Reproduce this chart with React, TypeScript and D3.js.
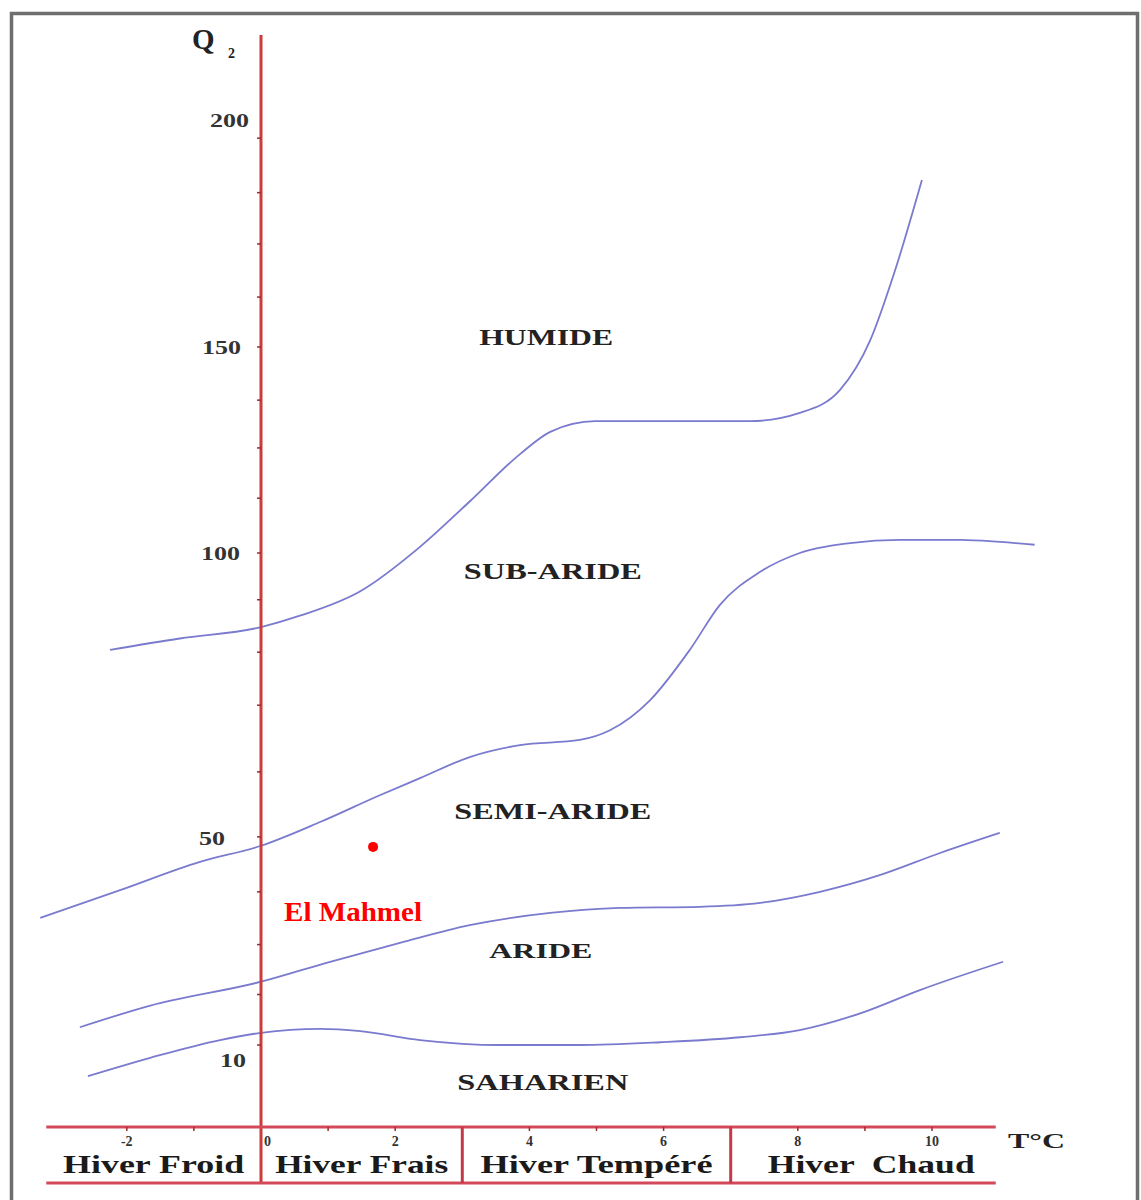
import React from "react";
import * as d3 from "d3";

// ---- Data (T in °C, Q2 Emberger quotient) ----
const curveHumide: [number, number][] = [
  [-2.25, 83], [-1.21, 85], [0, 87], [0.58, 89], [1.48, 93.3], [2.37, 101.5], [3.11, 112.5],
  [3.86, 124], [4.31, 129.4], [4.98, 132], [5.8, 132], [7.29, 132], [8.03, 134],
  [8.63, 139.6], [9.08, 151.5], [9.45, 166.9], [9.85, 186.8],
];
const curveSubAride: [number, number][] = [
  [-3.29, 35.6], [-2.1, 40.6], [-0.91, 45.7], [0, 48.6], [0.88, 52.8], [1.77, 57.5],
  [2.37, 60.5], [3.11, 64.2], [3.86, 66.3], [4.75, 67.2], [5.2, 68.9], [5.8, 74.2],
  [6.39, 83], [6.84, 90.9], [7.44, 96.7], [8.03, 100], [8.78, 102.4], [9.52, 103.2],
  [10.42, 103.2], [11.01, 102.7], [11.53, 102],
];
const curveSemiAride: [number, number][] = [
  [-2.7, 15.9], [-1.65, 19.8], [0, 24.1], [1.03, 27.7], [2.07, 31.1], [3.11, 34.3],
  [4.31, 36.5], [5.35, 37.4], [6.54, 37.6], [7.44, 38.3], [8.33, 40.3], [9.22, 43.3],
  [10.12, 47.3], [11.01, 50.9],
];
const curveAride: [number, number][] = [
  [-2.58, 7.1], [-1.65, 10.4], [-0.61, 13.6], [0, 14.9], [0.88, 15.6], [1.48, 15.2],
  [2.37, 13.6], [3.56, 12.7], [4.75, 12.7], [5.95, 13.2], [7.14, 14.1], [8.03, 15.4],
  [8.93, 18.4], [9.82, 22.6], [11.06, 27.7],
];
const boundaryCurves = [curveHumide, curveSubAride, curveSemiAride, curveAride];

const zoneNames = ["HUMIDE", "SUB-ARIDE", "SEMI-ARIDE", "ARIDE", "SAHARIEN"];
const zoneLabelT = [4.25, 4.35, 4.35, 4.17, 4.2];
const zoneLabelQ2 = [152, 96.7, 54.7, 29.6, 6];
const zoneLabelWidths = [134, 178, 197, 103, 171];

const q2TickLabels = [10, 50, 100, 150, 200];
const q2LabelRight = [246, 225, 240, 241, 249];
const q2MinorTicks = [196, 184, 172.7, 161, 150, 137.1, 125.5, 113.3, 100, 91.8, 82.6, 73.3, 61.6, 50.2, 40.3, 30.8, 21.8, 12.7];
const tTickLabels = [-2, 0, 2, 4, 6, 8, 10];
const tMinorTicks = [-2, -1, 1, 2, 4, 5, 6, 8, 9, 10];

const winterNames = ["Hiver Froid", "Hiver Frais", "Hiver Tempéré", "Hiver  Chaud"];
const winterBounds = [-3.2, 0, 3, 7, 10.95];
const winterLabelWidths = [181, 173, 232, 207];

const stationName = "El Mahmel";
const stationT = 1.67;
const stationQ2 = 48.4;

export default function App() {
  const W = 1141;
  const H = 1200;
  const x = d3.scaleLinear().domain([0, 10]).range([261, 932]);
  const y = d3.scaleLinear().domain(q2TickLabels).range([1060, 838, 553, 347, 120]);
  const line = d3
    .line<[number, number]>()
    .x((d) => x(d[0]))
    .y((d) => y(d[1]))
    .curve(d3.curveMonotoneX);

  const axisTop = 1127;
  const axisBottom = 1183;
  const serif = "'Liberation Serif', 'Times New Roman', serif";
  const labelCenters = winterNames.map((_, i) => (winterBounds[i] + winterBounds[i + 1]) / 2);

  return (
    <svg
      width={W}
      height={H}
      style={{ position: "absolute", left: 0, top: 0, background: "#fff" }}
      fontFamily={serif}
    >
      <rect x={0} y={0} width={W} height={H} fill="#fff" />
      {/* frame */}
      <rect x={11.5} y={13.5} width={1126} height={1200} fill="none" stroke="#6e6e6e" strokeWidth={3.5} />

      {/* boundary curves */}
      {boundaryCurves.map((c, i) => (
        <path key={i} d={line(c) || ""} fill="none" stroke="#7a7acf" strokeWidth={1.8} />
      ))}

      {/* zone labels */}
      {zoneNames.map((n, i) => (
        <text
          key={n}
          x={x(zoneLabelT[i])}
          y={y(zoneLabelQ2[i])}
          textAnchor="middle"
          dominantBaseline="central"
          fontSize={i === 3 ? 21 : 23}
          fontWeight="bold"
          fill="#222"
          textLength={zoneLabelWidths[i]}
          lengthAdjust="spacingAndGlyphs"
        >
          {n}
        </text>
      ))}

      {/* station */}
      <circle cx={x(stationT)} cy={y(stationQ2)} r={5} fill="#ff0000" />
      <text
        x={284}
        y={921}
        fontSize={27}
        fontWeight="bold"
        fill="#ff0000"
        textLength={138}
        lengthAdjust="spacingAndGlyphs"
      >
        {stationName}
      </text>

      {/* Q2 axis */}
      <line x1={x(0)} x2={x(0)} y1={35} y2={axisBottom} stroke="#cc3a3a" strokeWidth={3} />
      {q2MinorTicks.map((v) => (
        <line key={v} x1={x(0) - 4} x2={x(0)} y1={y(v)} y2={y(v)} stroke="#a02a2a" strokeWidth={1.5} />
      ))}
      {q2TickLabels.map((v, i) => (
        <text
          key={v}
          x={q2LabelRight[i]}
          y={y(v)}
          textAnchor="end"
          dominantBaseline="central"
          fontSize={19}
          fontWeight="bold"
          fill="#333"
          textLength={v >= 100 ? 39 : 26}
          lengthAdjust="spacingAndGlyphs"
        >
          {v}
        </text>
      ))}
      <text x={192} y={49} fontSize={29} fontWeight="bold" fill="#222">Q</text>
      <text x={228} y={58} fontSize={14} fontWeight="bold" fill="#222">2</text>

      {/* T axis band */}
      <line x1={x(winterBounds[0])} x2={x(winterBounds[4])} y1={axisTop} y2={axisTop} stroke="#d24a5a" strokeWidth={3} />
      <line x1={x(winterBounds[0])} x2={x(winterBounds[4])} y1={axisBottom} y2={axisBottom} stroke="#d24a5a" strokeWidth={3} />
      {winterBounds.slice(2, 4).map((b) => (
        <line key={b} x1={x(b)} x2={x(b)} y1={axisTop} y2={axisBottom} stroke="#c23a48" strokeWidth={3} />
      ))}
      {tMinorTicks.map((t) => (
        <line key={t} x1={x(t)} x2={x(t)} y1={axisTop} y2={axisTop + 4} stroke="#a02a2a" strokeWidth={1.5} />
      ))}
      {tTickLabels.map((t) => (
        <text
          key={t}
          x={t === 0 ? x(0) + 3 : x(t)}
          y={1146}
          textAnchor={t === 0 ? "start" : "middle"}
          fontSize={14}
          fontWeight="bold"
          fill="#333"
        >
          {t}
        </text>
      ))}
      {winterNames.map((n, i) => (
        <text
          key={n}
          x={x(labelCenters[i]) + (i === 3 ? 8 : 0)}
          y={1173}
          textAnchor="middle"
          fontSize={26}
          fontWeight="bold"
          fill="#1a1a1a"
          textLength={winterLabelWidths[i]}
          lengthAdjust="spacingAndGlyphs"
          style={{ whiteSpace: "pre" }}
        >
          {n}
        </text>
      ))}
      <text x={1008} y={1148} fontSize={22} fontWeight="bold" fill="#222" textLength={57} lengthAdjust="spacingAndGlyphs">
        T°C
      </text>
    </svg>
  );
}
